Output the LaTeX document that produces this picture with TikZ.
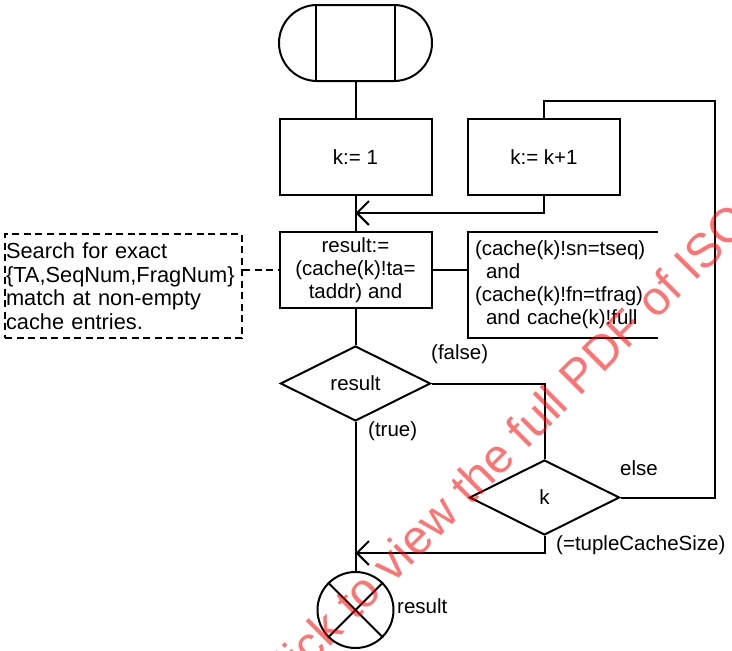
\documentclass[tikz,border=0pt]{standalone}
\usepackage{fontspec}
\setmainfont{Liberation Sans}
\usetikzlibrary{shapes.geometric,arrows.meta}
\begin{document}
\begin{tikzpicture}[x=1pt,y=-1pt,
  every node/.style={font=\fontsize{20.5}{23}\selectfont},
  ln/.style={line width=2pt},
  box/.style={draw, ln, minimum width=152pt, minimum height=76pt, inner sep=2pt, align=center},
  dec/.style={draw, ln, diamond, inner sep=0pt, minimum width=150pt, minimum height=75pt},
  lab/.style={anchor=base west, inner sep=0pt},
  arr/.style={ln, -{Straight Barb[length=12pt,width=24pt]}},
  dsh/.style={ln, dash pattern=on 7pt off 4.5pt}
]
\useasboundingbox[fill=white] (0,0) rectangle (732,651);

% start terminator
\node[draw, ln, rounded corners=38pt, minimum width=153pt, minimum height=76pt, inner sep=0pt] (start) at (355.5,43) {};
\draw[ln] ([xshift=38pt]start.north west) -- ([xshift=38pt]start.south west);
\draw[ln] ([xshift=-38pt]start.north east) -- ([xshift=-38pt]start.south east);

% boxes
\node[box] (k1) at (355.5,157) {k:= 1};
\node[box] (kinc) at (544,157) {k:= k+1};
\node[box] (res) at (355.5,270) {result:=\\(cache(k)!ta=\\taddr) and};

% annotation (open bracket)
\node[inner xsep=7pt, inner ysep=0pt, text width=176pt, minimum height=106pt, align=left] (ann) at (563,285)
  {(cache(k)!sn=tseq)\\\hspace*{11pt}and\\(cache(k)!fn=tfrag)\\\hspace*{11pt}and cache(k)!full};
\draw[ln] (ann.north east) -- (ann.north west) -- (ann.south west) -- (ann.south east);

% comment
\node[draw, dsh, minimum width=237pt, minimum height=104pt, inner xsep=1pt, text width=235pt, align=left,
  font=\fontsize{21.8}{23.5}\selectfont] (cm) at (123.5,286)
  {Search for exact\\\{TA,SeqNum,FragNum\}\\match at non-empty\\cache entries.};

% decisions
\node[dec] (dres) at (355.5,383.5) {result};
\node[dec] (dk) at (544.5,497.5) {k};

% end
\node[draw, ln, circle, minimum size=76pt, inner sep=0pt] (endc) at (355.5,610) {};
\draw[ln] (endc.north west) -- (endc.south east);
\draw[ln] (endc.north east) -- (endc.south west);

% coordinates
\coordinate (j1) at (355.5,213);
\coordinate (j2) at (355.5,553);
\coordinate (loopc) at (715,101);

% connectors
\draw[ln] (start.south) -- (k1.north);
\draw[ln] (k1.south) -- (res.north);
\draw[arr] (kinc.south) |- (j1);
\draw[ln] (res.south) -- (dres.north);
\draw[ln] (res.east) -- (res.east -| ann.west);
\draw[dsh] (res.west -| cm.east) -- (res.west);
\draw[ln] (dres.south) -- (endc.north);
\draw[ln] (dres.east) -| (dk.north);
\draw[arr] (dk.south) |- (j2);
\draw[ln] (dk.east) -| (loopc) -| (kinc.north);

% labels
\node[lab] (lfalse) at (431,359) {(false)};
\node[lab] (ltrue) at (368,436) {(true)};
\node[lab] (lelse) at (620,475) {else};
\node[lab] (lsize) at (556,550) {(=tupleCacheSize)};
\node[lab] (lres) at (397,613) {result};

% watermark
\begin{scope}
\clip (0,0) rectangle (732,651);
\node[text=red, opacity=0.55, rotate=45, anchor=base west, inner sep=0pt, font=\fontsize{48}{48}\selectfont] (wm) at (272,705) {Click to view the full PDF of ISO};
\end{scope}
\end{tikzpicture}
\end{document}
